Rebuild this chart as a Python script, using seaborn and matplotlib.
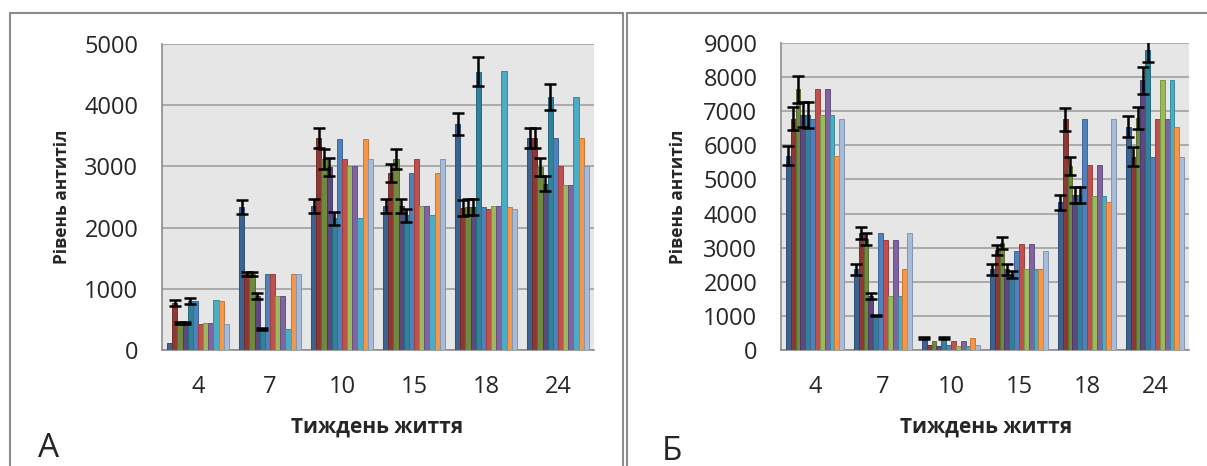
import numpy as np
import pandas as pd
import matplotlib
matplotlib.use("Agg")
import matplotlib.pyplot as plt
import matplotlib.colors as mcolors
from matplotlib.lines import Line2D
import seaborn as sns

weeks = ["4", "7", "10", "15", "18", "24"]
series = ["s1", "s2", "s3", "s4", "s5", "s6", "s7", "s8", "s9", "s10", "s11", "s12"]

# panel A: rows = weeks, columns = series
vals_a = [
    [110, 770, 440, 440, 800, 800, 425, 445, 445, 825, 800, 425],
    [2330, 1240, 1240, 880, 340, 1240, 1240, 885, 885, 340, 1240, 1240],
    [2350, 3460, 3125, 2990, 2150, 3450, 3120, 3000, 3000, 2160, 3450, 3120],
    [2350, 2890, 3125, 2350, 2200, 2890, 3120, 2350, 2350, 2200, 2890, 3120],
    [3700, 2320, 2340, 2340, 4550, 2330, 2310, 2360, 2360, 4560, 2330, 2310],
    [3460, 3460, 2990, 2720, 4130, 3460, 3000, 2690, 2690, 4130, 3460, 3000],
]
# errors only for the first five series
err_a = [
    [np.nan, 50, 12, 12, 45],
    [115, 30, 30, 50, 12],
    [110, 165, 165, 140, 100],
    [110, 150, 160, 110, 110],
    [180, 130, 130, 130, 230],
    [165, 165, 150, 130, 215],
]

# panel Б
vals_b = [
    [5690, 6780, 7640, 6900, 6890, 6760, 7640, 6890, 7640, 6890, 5690, 6760],
    [2360, 3430, 3260, 1580, 1020, 3430, 3220, 1580, 3220, 1580, 2360, 3430],
    [360, 140, 260, 120, 360, 140, 260, 120, 260, 120, 360, 140],
    [2360, 2940, 3140, 2360, 2210, 2910, 3110, 2360, 3110, 2360, 2360, 2910],
    [4330, 6760, 5400, 4550, 4550, 6760, 5430, 4520, 5430, 4520, 4330, 6760],
    [6550, 5670, 6800, 7910, 8790, 5670, 6760, 7910, 6760, 7910, 6550, 5670],
]
err_b = [
    [280, 330, 400, 370, 370],
    [150, 175, 170, 90, 20],
    [25, np.nan, np.nan, np.nan, 25],
    [150, 150, 170, 150, 110],
    [220, 330, 270, 240, 240],
    [320, 280, 330, 400, 350],
]

colors = ["#3B6391", "#8E3835", "#6F8A3C", "#5D4880", "#2F8299",
          "#4F81BD", "#C0504D", "#9BBB59", "#8064A2", "#4BACC6",
          "#F79646", "#A7BCDB"]

sns.set_style("white")
plt.rcParams['font.family'] = ['Open Sans', 'DejaVu Sans']


def to_long(vals):
    rows = []
    for i, w in enumerate(weeks):
        for j, s in enumerate(series):
            rows.append({"week": w, "series": s, "value": vals[i][j]})
    return pd.DataFrame(rows)


def draw(ax, vals, errs, ymax, step):
    df = to_long(vals)
    sns.barplot(data=df, x="week", y="value", hue="series", order=weeks,
                hue_order=series, palette=colors, saturation=1, width=0.86,
                gap=0, errorbar=None, legend=False, ax=ax, zorder=3)
    bar_groups = list(ax.containers)
    for h, cont in enumerate(bar_groups):
        for i, bar in enumerate(cont):
            fc = np.array(mcolors.to_rgb(bar.get_facecolor()))
            bar.set_edgecolor(fc * 0.8)
            bar.set_linewidth(0.7)
            if h < 5:
                e = errs[i][h]
                if not np.isnan(e):
                    x = bar.get_x() + bar.get_width() / 2
                    ax.errorbar(x, bar.get_height(), yerr=e, fmt="none",
                                ecolor="black", elinewidth=1.8, capsize=4.5,
                                capthick=1.8, zorder=5)
    ax.set_facecolor("#E6E6E6")
    ax.set_xlim(-0.5, 5.5)
    ax.set_ylim(0, ymax)
    ax.set_yticks(np.arange(0, ymax + 1, step))
    ax.yaxis.grid(True, color="#A0A0A0", linewidth=1.2, zorder=0)
    ax.set_axisbelow(True)
    for s in ["top", "right"]:
        ax.spines[s].set_visible(False)
    for s in ["left", "bottom"]:
        ax.spines[s].set_color("#8C8C8C")
        ax.spines[s].set_linewidth(1.2)
    ax.tick_params(axis="y", length=5, color="#8C8C8C", labelsize=17, pad=12)
    ax.tick_params(axis="x", length=0, labelsize=17, pad=18)
    ax.set_xlabel("")
    ax.set_ylabel("")


fig = plt.figure(figsize=(12.07, 4.66), dpi=100)
ax1 = fig.add_axes([162 / 1207, 116 / 466, 432 / 1207, 306 / 466])
ax2 = fig.add_axes([781 / 1207, 116 / 466, 408 / 1207, 307 / 466])

draw(ax1, vals_a, err_a, 5000, 1000)
draw(ax2, vals_b, err_b, 9000, 1000)

# axis titles
fig.text(62 / 1207, 1 - 197 / 466, "Рівень антитіл", rotation=90,
         ha="center", va="center", fontsize=12.5, fontweight="bold")
fig.text(678 / 1207, 1 - 197 / 466, "Рівень антитіл", rotation=90,
         ha="center", va="center", fontsize=12.5, fontweight="bold")
fig.text(377 / 1207, 1 - 427 / 466, "Тиждень життя",
         ha="center", va="center", fontsize=15, fontweight="bold")
fig.text(986 / 1207, 1 - 427 / 466, "Тиждень життя",
         ha="center", va="center", fontsize=15, fontweight="bold")

# panel letters
fig.text(38 / 1207, 1 - 457 / 466, "А", fontsize=24, ha="left", va="baseline")
fig.text(662 / 1207, 1 - 460 / 466, "Б", fontsize=24, ha="left", va="baseline")

# panel frames
fc = "#8C8C8C"
ytop = 1 - 13 / 466
for x0, x1 in [(10, 623), (627, 1207)]:
    fig.add_artist(Line2D([x0 / 1207, x1 / 1207], [ytop, ytop], color=fc,
                          lw=1.5, transform=fig.transFigure))
    fig.add_artist(Line2D([x0 / 1207, x0 / 1207], [0, ytop], color=fc,
                          lw=1.5, transform=fig.transFigure))
fig.add_artist(Line2D([623 / 1207, 623 / 1207], [0, ytop], color=fc,
                      lw=1.5, transform=fig.transFigure))

fig.savefig("out.png", dpi=100)
